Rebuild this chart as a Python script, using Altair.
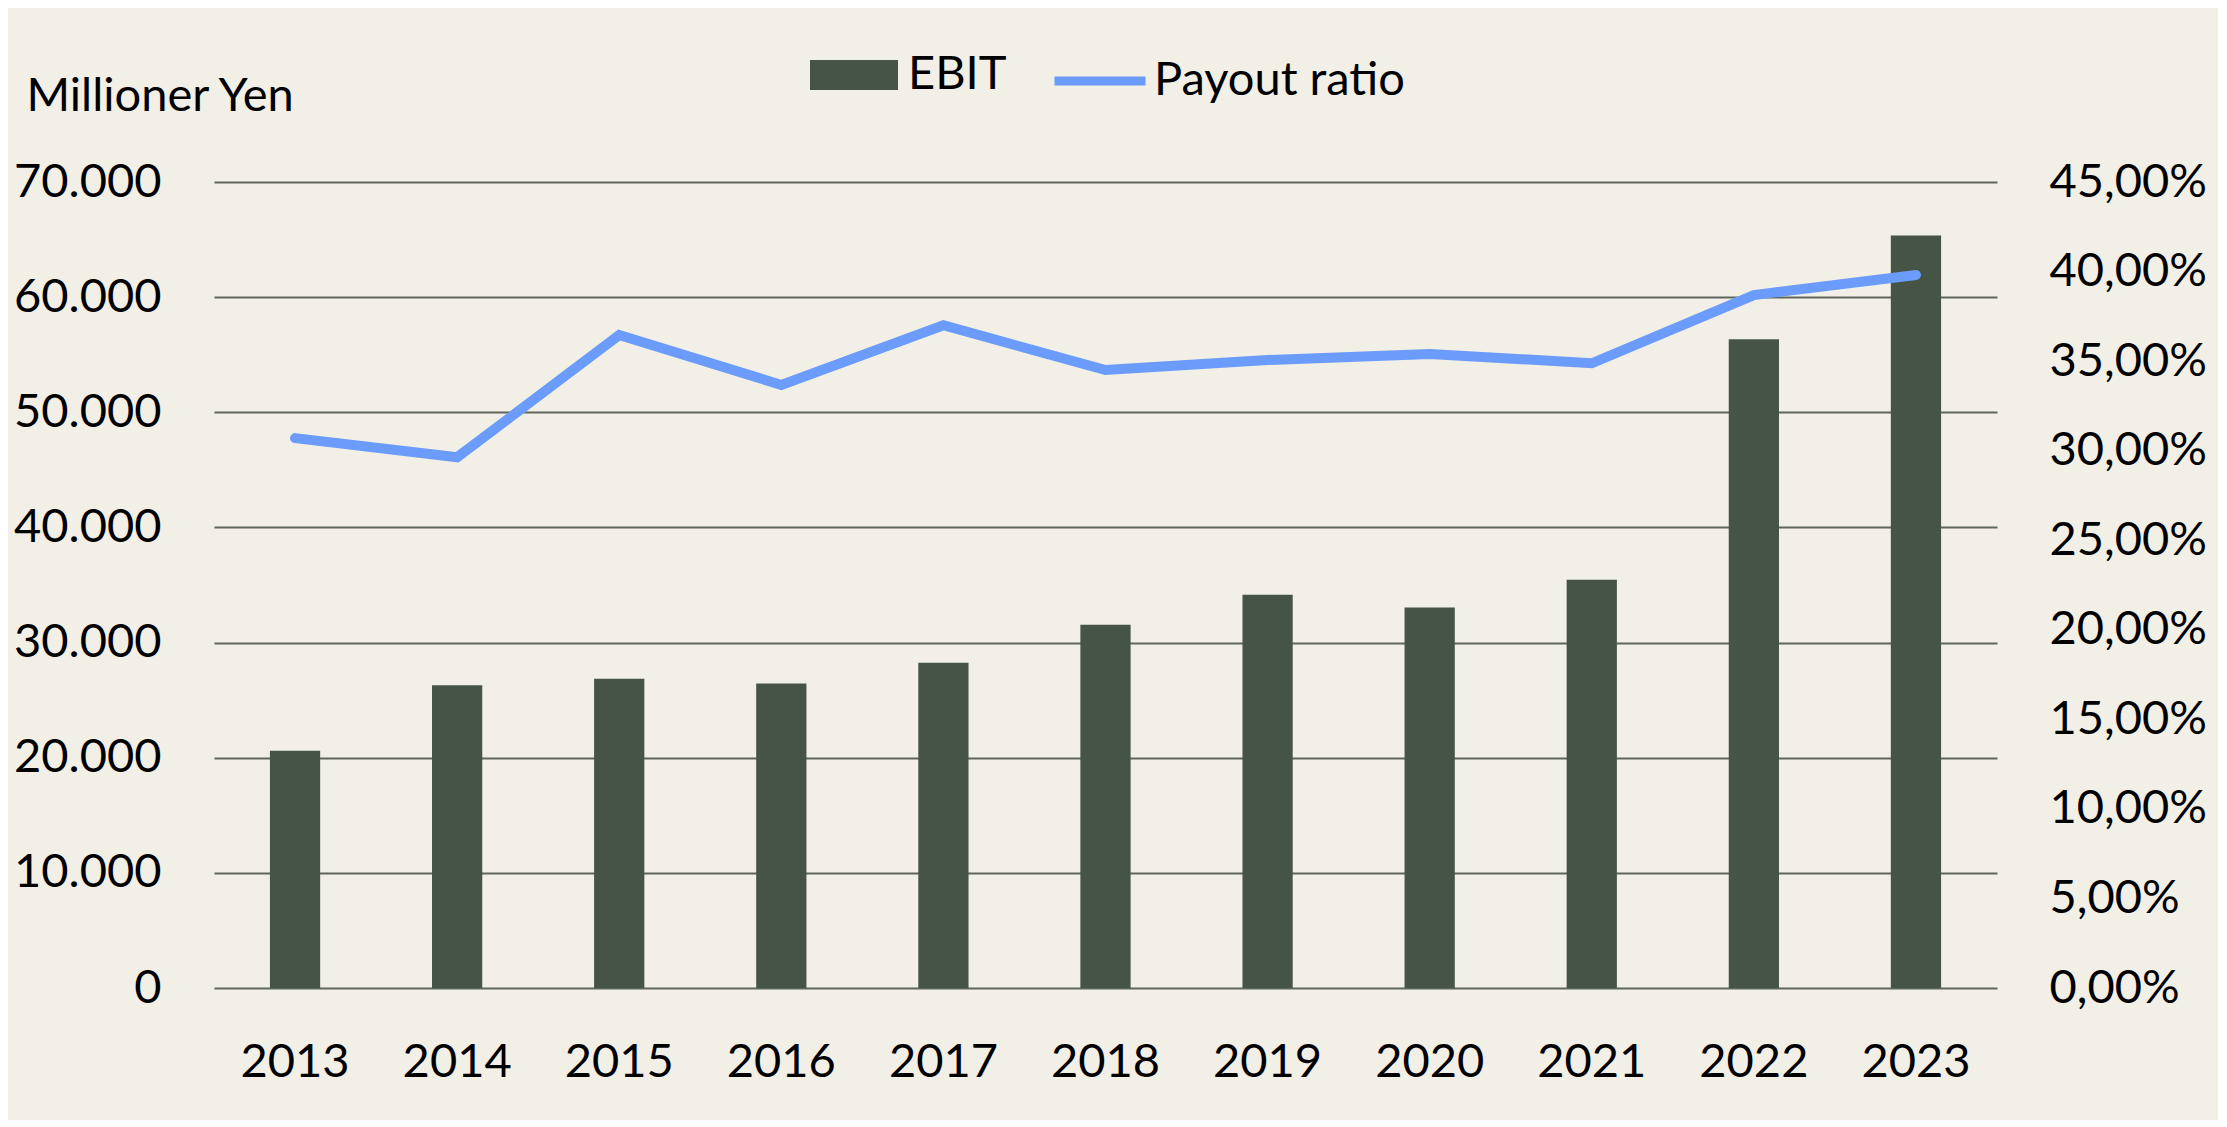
import altair as alt
import pandas as pd

years = ["2013", "2014", "2015", "2016", "2017", "2018", "2019", "2020", "2021", "2022", "2023"]
ebit = [20600, 26300, 26850, 26450, 28250, 31550, 34150, 33050, 35450, 56350, 65350]
payout = [0.3070, 0.2963, 0.3646, 0.3367, 0.3700, 0.3450, 0.3506, 0.3540, 0.3488, 0.3869, 0.3981]
left_ticks = [0, 10000, 20000, 30000, 40000, 50000, 60000, 70000]
right_ticks = [0.0, 0.05, 0.10, 0.15, 0.20, 0.25, 0.30, 0.35, 0.40, 0.45]

BAR = "#465446"
LINE = "#6B9BFB"
GRID = "#5F675A"
BG = "#F2EFE6"
FONT = "Lato"
FS = 47

df = pd.DataFrame({
    "year": years,
    "ebit": ebit,
    "payout": payout,
    "s_bar": ["EBIT"] * len(years),
    "s_line": ["Payout ratio"] * len(years),
})

x_enc = alt.X(
    "year:N",
    scale=alt.Scale(paddingInner=0.69, paddingOuter=0.345),
    axis=alt.Axis(
        title=None, labelAngle=0, ticks=False, tickSize=0, domain=False, grid=False,
        labelPadding=88, labelBaseline="alphabetic", labelFont=FONT, labelFontSize=FS,
        labelColor="black",
    ),
)

bars = alt.Chart(df).mark_bar(color=BAR).encode(
    x=x_enc,
    y=alt.Y(
        "ebit:Q",
        scale=alt.Scale(domain=[0, 70000], nice=False),
        axis=alt.Axis(
            values=left_ticks,
            labelExpr="replace(format(datum.value, ','), ',', '.')",
            grid=True, gridColor=GRID, gridWidth=2, domain=False, ticks=False, tickSize=0,
            labelPadding=53, labelFont=FONT, labelFontSize=FS, labelColor="black",
            title="Millioner Yen", titleAngle=0, titleX=-188, titleY=-72,
            titleAlign="left", titleBaseline="alphabetic", titleFont=FONT,
            titleFontSize=FS, titleFontWeight="normal", titleColor="black",
        ),
    ),
    fill=alt.Fill(
        "s_bar:N",
        title=None,
        scale=alt.Scale(domain=["EBIT"], range=[BAR]),
        legend=alt.Legend(
            orient="none", legendX=596, legendY=-151,
            symbolType="M-1,-0.34H1V0.34H-1Z", symbolSize=7744, symbolStrokeWidth=0,
            labelFont=FONT, labelFontSize=FS, labelColor="black", labelOffset=10,
            labelLimit=600, padding=0,
        ),
    ),
)

line = alt.Chart(df).mark_line(strokeWidth=10, strokeCap="round", color=LINE).encode(
    x=x_enc,
    y=alt.Y(
        "payout:Q",
        scale=alt.Scale(domain=[0, 0.45], nice=False),
        axis=alt.Axis(
            orient="right", values=right_ticks,
            labelExpr="replace(format(datum.value, '.2%'), '.', ',')",
            grid=False, domain=False, ticks=False, tickSize=0, labelPadding=52,
            labelFont=FONT, labelFontSize=FS, labelColor="black", title=None,
        ),
    ),
    stroke=alt.Stroke(
        "s_line:N",
        title=None,
        scale=alt.Scale(domain=["Payout ratio"], range=[LINE]),
        legend=alt.Legend(
            orient="none", legendX=836, legendY=-151,
            symbolType="stroke", symbolSize=8281, symbolStrokeWidth=9,
            labelFont=FONT, labelFontSize=FS, labelColor="black", labelOffset=4,
            labelLimit=600, padding=0,
        ),
    ),
)

chart = alt.layer(bars, line).resolve_scale(y="independent").properties(
    width=1783,
    height=806,
    autosize=alt.AutoSizeParams(type="none"),
    padding={"left": 206, "top": 174, "right": 221, "bottom": 132},
    background=BG,
).configure_view(stroke="transparent")

chart.save("out.html", embed_options={"renderer": "svg", "actions": False})
